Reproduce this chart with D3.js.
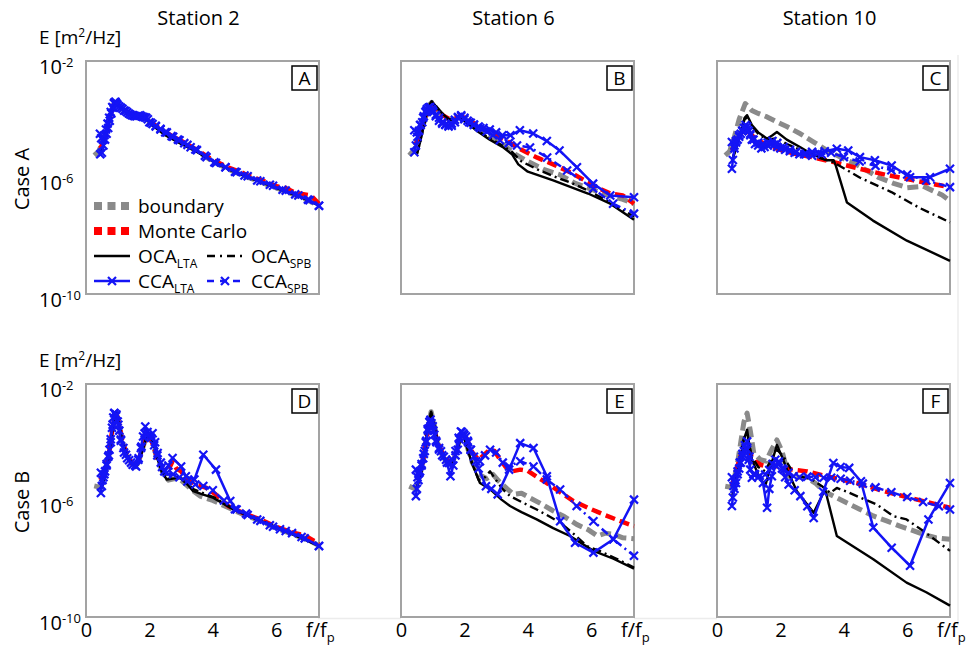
<!DOCTYPE html>
<html>
<head>
<meta charset="utf-8">
<script src="https://cdn.jsdelivr.net/npm/d3@7"></script>
<style>
body { margin: 0; background: #fff; }
text { font-family: "Open Sans", sans-serif; fill: #000; }
</style>
</head>
<body>
<svg width="978" height="649"></svg>
<script>
// labels
var stations = ["Station 2", "Station 6", "Station 10"];
var cases = ["Case A", "Case B"];
var panelLetters = ["A", "B", "C", "D", "E", "F"];
var yTicks = [1e-2, 1e-6, 1e-10];
var xTicks = [0, 2, 4, 6];

// each series: [f/fp, log10 E]
// --- Case A, station 2
var boundaryA = [[0.26,-5.24],[0.4,-5.1],[0.5,-4.85],[0.6,-4.55],[0.7,-4.15],[0.8,-3.75],[0.9,-3.42],[1.0,-3.5],[1.15,-3.65],[1.3,-3.78],[1.5,-3.88],[1.7,-3.92],[1.9,-3.97],[2.1,-4.18],[2.5,-4.48],[3.0,-4.78],[3.5,-5.08],[4.0,-5.45],[4.5,-5.72],[5.0,-5.95],[5.5,-6.15],[6.0,-6.36],[6.5,-6.56],[7.0,-6.78],[7.35,-6.97]];
var monteCarloA = [[0.45,-5.0],[0.55,-4.8],[0.65,-4.4],[0.75,-3.95],[0.85,-3.55],[0.92,-3.42],[1.0,-3.5],[1.15,-3.63],[1.3,-3.76],[1.5,-3.86],[1.7,-3.9],[1.9,-3.95],[2.1,-4.15],[2.5,-4.45],[3.0,-4.74],[3.5,-5.05],[4.0,-5.4],[4.5,-5.66],[4.9,-5.82],[5.1,-5.93],[5.6,-6.12],[6.0,-6.3],[6.3,-6.36],[6.6,-6.52],[6.9,-6.58],[7.1,-6.62],[7.35,-6.9]];
var ocaLtaA = [[0.45,-5.25],[0.55,-4.95],[0.65,-4.5],[0.75,-4.0],[0.85,-3.6],[0.92,-3.4],[1.0,-3.5],[1.15,-3.66],[1.3,-3.8],[1.5,-3.9],[1.7,-3.95],[1.9,-4.0],[2.1,-4.22],[2.5,-4.55],[3.0,-4.85],[3.5,-5.12],[4.0,-5.45],[4.5,-5.72],[5.0,-5.95],[5.5,-6.15],[6.0,-6.36],[6.5,-6.56],[7.0,-6.78],[7.35,-6.97]];
var ocaSpbA = [[0.45,-5.2],[0.55,-4.9],[0.65,-4.45],[0.75,-3.98],[0.85,-3.58],[0.92,-3.42],[1.0,-3.5],[1.15,-3.65],[1.3,-3.79],[1.5,-3.89],[1.7,-3.93],[1.9,-3.98],[2.1,-4.2],[2.5,-4.52],[3.0,-4.82],[3.5,-5.1],[4.0,-5.44],[4.5,-5.71],[5.0,-5.94],[5.5,-6.14],[6.0,-6.35],[6.5,-6.55],[7.0,-6.77],[7.35,-6.96]];
var ccaLtaA = [[0.45,-5.2],[0.5,-5.15],[0.55,-4.9],[0.6,-4.7],[0.65,-4.5],[0.7,-4.3],[0.75,-4.05],[0.8,-3.8],[0.85,-3.6],[0.9,-3.42],[0.95,-3.45],[1.0,-3.52],[1.1,-3.6],[1.2,-3.7],[1.3,-3.76],[1.4,-3.84],[1.5,-3.88],[1.6,-3.9],[1.7,-3.86],[1.8,-3.92],[1.9,-3.95],[2.0,-4.1],[2.1,-4.16],[2.2,-4.25],[2.35,-4.35],[2.5,-4.45],[2.7,-4.58],[2.9,-4.7],[3.1,-4.82],[3.3,-4.96],[3.5,-5.06],[3.8,-5.3],[4.1,-5.5],[4.4,-5.65],[4.7,-5.8],[5.0,-5.93],[5.4,-6.1],[5.8,-6.25],[6.2,-6.42],[6.6,-6.58],[7.0,-6.76],[7.35,-6.97]];
var ccaSpbA = [[0.44,-4.5],[0.48,-4.65],[0.53,-4.7],[0.58,-4.55],[0.63,-4.35],[0.68,-4.15],[0.73,-3.95],[0.78,-3.75],[0.83,-3.58],[0.88,-3.45],[0.93,-3.4],[0.98,-3.48],[1.05,-3.56],[1.15,-3.64],[1.25,-3.72],[1.35,-3.8],[1.45,-3.86],[1.55,-3.9],[1.65,-3.88],[1.75,-3.9],[1.85,-3.93],[1.95,-4.0],[2.05,-4.12],[2.2,-4.22],[2.35,-4.33],[2.55,-4.45],[2.75,-4.6],[2.95,-4.72],[3.2,-4.88],[3.45,-5.04],[3.75,-5.25],[4.05,-5.48],[4.4,-5.65],[4.75,-5.82],[5.1,-5.96],[5.5,-6.13],[5.9,-6.28],[6.3,-6.45],[6.7,-6.62],[7.05,-6.78],[7.35,-6.97]];

// --- Case A, station 6
var boundaryB = [[0.26,-5.24],[0.45,-5.0],[0.6,-4.6],[0.75,-4.0],[0.9,-3.5],[0.97,-3.42],[1.1,-3.6],[1.3,-3.85],[1.5,-4.0],[1.7,-4.0],[1.9,-3.95],[2.1,-4.1],[2.4,-4.35],[2.8,-4.6],[3.2,-4.85],[3.6,-5.2],[4.0,-5.45],[4.5,-5.72],[5.0,-5.9],[5.5,-6.2],[6.0,-6.4],[6.5,-6.6],[7.0,-6.75],[7.35,-6.9]];
var monteCarloB = [[0.45,-4.9],[0.6,-4.5],[0.75,-3.95],[0.9,-3.5],[0.97,-3.45],[1.1,-3.62],[1.3,-3.85],[1.5,-3.98],[1.7,-3.95],[1.9,-3.88],[2.1,-4.0],[2.4,-4.2],[2.8,-4.45],[3.3,-4.72],[3.8,-5.05],[4.3,-5.32],[4.8,-5.55],[5.3,-5.8],[5.8,-6.1],[6.2,-6.35],[6.6,-6.55],[7.0,-6.62],[7.35,-6.9]];
var ocaLtaB = [[0.5,-5.2],[0.6,-4.8],[0.7,-4.3],[0.8,-3.85],[0.9,-3.5],[0.97,-3.38],[1.1,-3.55],[1.3,-3.8],[1.5,-4.0],[1.6,-4.03],[1.8,-3.98],[1.9,-3.95],[2.1,-4.15],[2.4,-4.4],[2.8,-4.7],[3.2,-4.95],[3.5,-5.2],[3.7,-5.55],[4.0,-5.8],[4.8,-6.1],[5.9,-6.55],[6.6,-6.9],[7.35,-7.45]];
var ocaSpbB = [[0.5,-5.2],[0.6,-4.8],[0.7,-4.3],[0.8,-3.85],[0.9,-3.5],[0.97,-3.4],[1.1,-3.57],[1.3,-3.82],[1.5,-4.0],[1.7,-4.0],[1.9,-3.96],[2.1,-4.12],[2.4,-4.38],[2.8,-4.65],[3.2,-4.9],[3.5,-5.12],[3.8,-5.45],[4.3,-5.72],[4.8,-5.95],[5.4,-6.2],[5.9,-6.45],[6.6,-6.85],[7.35,-7.35]];
var ccaLtaB = [[0.42,-5.13],[0.47,-4.9],[0.52,-4.6],[0.57,-4.4],[0.62,-4.2],[0.67,-4.1],[0.72,-3.9],[0.77,-3.75],[0.82,-3.65],[0.87,-3.6],[0.92,-3.58],[0.97,-3.65],[1.02,-3.75],[1.1,-3.85],[1.2,-3.95],[1.3,-4.1],[1.4,-4.18],[1.5,-4.25],[1.6,-4.22],[1.7,-4.1],[1.8,-3.95],[1.9,-3.86],[2.0,-3.95],[2.1,-4.05],[2.2,-4.12],[2.3,-4.18],[2.45,-4.25],[2.6,-4.3],[2.8,-4.35],[3.0,-4.45],[3.2,-4.55],[3.45,-4.55],[3.75,-4.38],[4.17,-4.49],[4.6,-4.75],[5.0,-5.07],[5.55,-5.65],[6.06,-6.21],[6.6,-6.62],[7.35,-6.68]];
var ccaSpbB = [[0.42,-4.38],[0.5,-4.45],[0.6,-4.2],[0.7,-3.95],[0.8,-3.7],[0.9,-3.6],[1.0,-3.7],[1.1,-3.9],[1.2,-4.05],[1.3,-4.15],[1.4,-4.2],[1.5,-4.22],[1.6,-4.15],[1.7,-4.02],[1.8,-3.92],[1.9,-3.9],[2.0,-4.0],[2.15,-4.1],[2.3,-4.2],[2.5,-4.3],[2.7,-4.42],[2.9,-4.55],[3.12,-4.72],[3.4,-4.82],[3.66,-4.9],[4.07,-4.97],[4.61,-5.31],[5.24,-5.76],[6.06,-6.38],[6.69,-6.9],[7.35,-7.24]];

// --- Case A, station 10
var boundaryC = [[0.26,-5.24],[0.4,-5.1],[0.55,-4.6],[0.7,-4.0],[0.89,-3.46],[1.1,-3.7],[1.3,-3.8],[1.58,-3.92],[1.9,-4.1],[2.2,-4.25],[2.63,-4.5],[3.0,-4.75],[3.47,-5.07],[3.89,-5.3],[4.3,-5.5],[4.73,-5.76],[5.1,-6.0],[5.57,-6.2],[6.0,-6.35],[6.5,-6.3],[6.8,-6.45],[7.1,-6.6],[7.35,-6.8]];
var monteCarloC = [[0.47,-5.07],[0.6,-4.8],[0.75,-4.5],[0.89,-4.32],[1.0,-4.45],[1.2,-4.65],[1.58,-4.9],[2.0,-5.05],[2.5,-5.2],[3.0,-5.3],[3.68,-5.47],[4.5,-5.7],[5.3,-5.9],[6.2,-6.1],[7.35,-6.33]];
var ocaLtaC = [[0.47,-5.42],[0.6,-5.0],[0.75,-4.4],[0.87,-3.95],[0.95,-3.86],[1.1,-4.2],[1.3,-4.45],[1.58,-4.67],[1.75,-4.55],[1.89,-4.44],[2.2,-4.7],[2.63,-4.96],[3.0,-5.2],[3.47,-5.41],[3.68,-5.41],[3.75,-5.6],[4.1,-6.86],[4.92,-7.48],[5.99,-8.17],[7.35,-8.86]];
var ocaSpbC = [[0.47,-5.42],[0.6,-5.0],[0.75,-4.45],[0.87,-4.0],[0.95,-3.95],[1.1,-4.25],[1.3,-4.5],[1.58,-4.7],[1.9,-4.65],[2.2,-4.85],[2.63,-5.05],[3.0,-5.25],[3.66,-5.47],[4.5,-6.0],[5.5,-6.5],[6.4,-7.05],[7.35,-7.54]];
var ccaLtaC = [[0.47,-5.7],[0.5,-5.4],[0.55,-5.0],[0.6,-4.8],[0.65,-4.7],[0.7,-4.6],[0.75,-4.5],[0.8,-4.4],[0.85,-4.3],[0.9,-4.2],[0.95,-4.25],[1.0,-4.4],[1.05,-4.55],[1.1,-4.7],[1.2,-4.85],[1.3,-4.9],[1.4,-5.0],[1.5,-4.95],[1.6,-4.9],[1.7,-4.85],[1.8,-4.88],[1.9,-4.95],[2.0,-5.0],[2.15,-5.05],[2.3,-5.1],[2.45,-5.15],[2.6,-5.2],[2.8,-5.18],[3.0,-5.12],[3.2,-5.15],[3.4,-5.1],[3.78,-5.01],[4.14,-5.07],[4.51,-5.3],[4.98,-5.41],[5.51,-5.59],[6.09,-5.99],[6.72,-5.99],[7.35,-5.7]];
var ccaSpbC = [[0.47,-4.78],[0.55,-4.9],[0.6,-4.75],[0.7,-4.55],[0.8,-4.4],[0.88,-4.3],[0.95,-4.35],[1.05,-4.5],[1.15,-4.7],[1.3,-4.8],[1.45,-4.85],[1.6,-4.8],[1.75,-4.75],[1.9,-4.82],[2.1,-4.95],[2.3,-5.05],[2.5,-5.12],[2.75,-5.2],[3.0,-5.25],[3.3,-5.2],[3.6,-5.15],[4.0,-5.3],[4.5,-5.45],[5.0,-5.6],[5.5,-5.75],[6.0,-5.9],[6.6,-6.1],[7.35,-6.33]];

// --- Case B, station 2
var boundaryD = [[0.26,-5.5],[0.45,-5.55],[0.55,-5.3],[0.65,-4.9],[0.75,-4.3],[0.85,-3.5],[0.95,-3.0],[1.05,-3.4],[1.15,-4.0],[1.3,-4.45],[1.45,-4.75],[1.6,-4.85],[1.75,-4.35],[1.9,-3.8],[2.0,-3.75],[2.1,-4.0],[2.25,-4.6],[2.45,-5.1],[2.6,-5.3],[2.8,-5.25],[3.0,-5.3],[3.3,-5.6],[3.6,-5.85],[4.0,-6.0],[4.5,-6.25],[5.0,-6.5],[5.5,-6.7],[6.0,-6.95],[6.5,-7.15],[7.0,-7.35],[7.35,-7.55]];
var monteCarloD = [[0.45,-5.3],[0.55,-5.1],[0.65,-4.8],[0.75,-4.2],[0.85,-3.4],[0.95,-2.95],[1.05,-3.4],[1.15,-4.0],[1.3,-4.45],[1.45,-4.72],[1.6,-4.8],[1.75,-4.3],[1.9,-3.75],[2.0,-3.8],[2.1,-4.05],[2.25,-4.55],[2.45,-5.0],[2.6,-4.95],[2.73,-4.65],[2.85,-4.9],[3.0,-5.0],[3.2,-5.3],[3.5,-5.45],[3.8,-5.57],[4.1,-5.8],[4.5,-6.2],[5.0,-6.45],[5.5,-6.65],[6.0,-6.9],[6.5,-7.1],[6.9,-7.2],[7.2,-7.39],[7.35,-7.5]];
var ocaLtaD = [[0.47,-5.62],[0.55,-5.4],[0.65,-5.0],[0.75,-4.3],[0.85,-3.4],[0.95,-2.95],[1.05,-3.4],[1.15,-4.0],[1.3,-4.45],[1.45,-4.75],[1.6,-4.85],[1.75,-4.4],[1.9,-3.85],[2.0,-3.69],[2.1,-3.95],[2.25,-4.55],[2.4,-5.05],[2.55,-5.28],[2.75,-5.25],[2.97,-5.23],[3.2,-5.45],[3.38,-5.68],[3.7,-5.8],[4.02,-5.91],[4.65,-6.31],[5.38,-6.65],[6.12,-6.99],[6.7,-7.25],[7.35,-7.56]];
var ocaSpbD = [[0.47,-5.58],[0.55,-5.35],[0.65,-4.95],[0.75,-4.28],[0.85,-3.42],[0.95,-2.98],[1.05,-3.42],[1.15,-4.02],[1.3,-4.45],[1.45,-4.74],[1.6,-4.83],[1.75,-4.38],[1.9,-3.83],[2.0,-3.72],[2.1,-3.98],[2.25,-4.55],[2.4,-5.0],[2.55,-5.22],[2.75,-5.2],[2.97,-5.2],[3.2,-5.4],[3.4,-5.62],[3.7,-5.75],[4.02,-5.88],[4.65,-6.28],[5.38,-6.63],[6.12,-6.97],[6.7,-7.23],[7.35,-7.55]];
var ccaLtaD = [[0.47,-5.74],[0.5,-5.5],[0.55,-5.2],[0.6,-5.0],[0.65,-4.75],[0.7,-4.5],[0.74,-4.26],[0.78,-3.9],[0.82,-3.5],[0.86,-3.15],[0.89,-3.0],[0.95,-3.1],[1.0,-3.29],[1.05,-3.6],[1.1,-3.91],[1.18,-4.2],[1.26,-4.43],[1.36,-4.62],[1.47,-4.77],[1.58,-4.83],[1.66,-4.55],[1.73,-4.2],[1.8,-3.8],[1.87,-3.46],[1.94,-3.65],[2.0,-3.8],[2.1,-3.69],[2.18,-4.0],[2.26,-4.37],[2.36,-4.7],[2.47,-5.0],[2.6,-4.8],[2.73,-4.54],[3.0,-4.83],[3.15,-5.17],[3.42,-5.28],[3.7,-4.43],[4.1,-4.94],[4.55,-6.02],[4.75,-6.31],[5.05,-6.45],[5.4,-6.65],[5.8,-6.85],[6.12,-6.99],[6.5,-7.12],[6.9,-7.3],[7.35,-7.56]];
var ccaSpbD = [[0.47,-5.05],[0.52,-5.3],[0.58,-5.1],[0.65,-4.8],[0.72,-4.45],[0.78,-4.0],[0.84,-3.4],[0.9,-3.0],[0.96,-3.05],[1.02,-3.4],[1.1,-3.95],[1.2,-4.35],[1.3,-4.55],[1.42,-4.7],[1.55,-4.8],[1.65,-4.6],[1.75,-4.15],[1.85,-3.7],[1.95,-3.75],[2.05,-3.85],[2.15,-4.1],[2.25,-4.45],[2.4,-4.85],[2.55,-5.05],[2.75,-5.1],[2.95,-5.2],[3.2,-5.35],[3.45,-5.45],[3.7,-5.5],[4.0,-5.65],[4.35,-6.0],[4.7,-6.3],[5.1,-6.5],[5.5,-6.7],[5.9,-6.9],[6.3,-7.05],[6.8,-7.25],[7.35,-7.56]];

// --- Case B, station 6
var boundaryE = [[0.26,-5.51],[0.45,-5.6],[0.55,-5.3],[0.65,-4.9],[0.75,-4.3],[0.85,-3.5],[0.95,-2.95],[1.05,-3.4],[1.15,-4.0],[1.3,-4.45],[1.45,-4.7],[1.6,-4.8],[1.75,-4.3],[1.9,-3.7],[2.0,-3.75],[2.1,-4.2],[2.25,-4.7],[2.45,-5.1],[2.7,-5.25],[2.9,-5.1],[3.1,-5.35],[3.35,-5.6],[3.55,-5.79],[3.8,-5.75],[4.07,-5.91],[4.4,-6.1],[4.81,-6.36],[5.15,-6.55],[5.54,-6.82],[5.9,-7.0],[6.2,-7.22],[6.45,-7.12],[6.7,-7.16],[7.0,-7.28],[7.35,-7.31]];
var monteCarloE = [[0.5,-5.3],[0.6,-5.0],[0.7,-4.6],[0.8,-3.9],[0.9,-3.3],[0.95,-3.2],[1.05,-3.55],[1.15,-4.0],[1.3,-4.35],[1.45,-4.6],[1.6,-4.7],[1.75,-4.3],[1.9,-3.7],[2.0,-3.7],[2.1,-3.95],[2.25,-4.35],[2.45,-4.6],[2.6,-4.45],[2.79,-4.26],[2.95,-4.3],[3.1,-4.55],[3.3,-4.85],[3.5,-5.0],[3.76,-4.94],[4.0,-4.98],[4.3,-5.2],[4.6,-5.4],[5.0,-5.7],[5.44,-6.02],[5.9,-6.25],[6.39,-6.48],[6.9,-6.7],[7.35,-6.88]];
var ocaLtaE = [[0.47,-5.62],[0.55,-5.4],[0.65,-5.0],[0.75,-4.3],[0.85,-3.4],[0.95,-2.95],[1.05,-3.4],[1.15,-4.0],[1.3,-4.45],[1.45,-4.7],[1.6,-4.8],[1.75,-4.35],[1.9,-3.8],[2.0,-3.85],[2.1,-4.25],[2.25,-4.75],[2.49,-5.4],[2.8,-5.6],[3.17,-5.97],[3.44,-6.19],[3.8,-6.4],[4.28,-6.65],[4.8,-6.95],[5.33,-7.22],[6.07,-7.73],[6.7,-8.0],[7.35,-8.34]];
var ocaSpbE = [[0.47,-5.6],[0.55,-5.38],[0.65,-4.98],[0.75,-4.3],[0.85,-3.42],[0.95,-2.97],[1.05,-3.42],[1.15,-4.0],[1.3,-4.45],[1.45,-4.7],[1.6,-4.8],[1.75,-4.35],[1.9,-3.8],[2.0,-3.85],[2.1,-4.25],[2.25,-4.75],[2.45,-5.3],[2.65,-5.2],[2.81,-5.0],[3.0,-5.3],[3.2,-5.6],[3.44,-5.85],[3.8,-6.05],[4.28,-6.31],[4.6,-6.5],[5.02,-6.76],[5.45,-7.15],[5.86,-7.56],[6.3,-7.75],[6.8,-8.0],[7.35,-8.3]];
var ccaLtaE = [[0.47,-5.85],[0.5,-5.6],[0.55,-5.3],[0.6,-5.0],[0.65,-4.8],[0.7,-4.55],[0.75,-4.3],[0.8,-3.95],[0.85,-3.6],[0.9,-3.3],[0.93,-3.23],[1.0,-3.45],[1.05,-3.74],[1.12,-4.0],[1.2,-4.2],[1.26,-4.31],[1.35,-4.5],[1.45,-4.7],[1.56,-5.17],[1.65,-4.8],[1.72,-4.45],[1.79,-4.26],[1.84,-3.9],[1.89,-3.63],[1.97,-3.7],[2.05,-3.8],[2.12,-4.0],[2.2,-4.26],[2.3,-4.5],[2.45,-4.9],[2.68,-5.51],[2.85,-5.6],[3.05,-5.79],[3.41,-4.94],[3.76,-4.03],[4.18,-4.2],[4.6,-5.17],[5.02,-6.71],[5.49,-7.45],[6.07,-7.79],[6.7,-7.33],[7.35,-5.97]];
var ccaSpbE = [[0.47,-4.94],[0.52,-5.2],[0.58,-5.05],[0.65,-4.75],[0.72,-4.4],[0.78,-4.0],[0.84,-3.55],[0.9,-3.3],[0.96,-3.35],[1.02,-3.6],[1.1,-3.95],[1.2,-4.25],[1.3,-4.45],[1.42,-4.6],[1.52,-4.71],[1.62,-4.6],[1.72,-4.3],[1.82,-3.85],[1.92,-3.65],[2.0,-3.75],[2.1,-3.95],[2.2,-4.26],[2.37,-4.65],[2.49,-4.65],[2.65,-4.45],[2.81,-4.26],[3.0,-4.35],[3.21,-4.7],[3.41,-4.83],[3.76,-4.65],[4.18,-4.83],[4.6,-5.28],[5.02,-5.62],[5.54,-6.19],[6.07,-6.71],[6.7,-7.33],[7.35,-7.9]];

// --- Case B, station 10
var boundaryF = [[0.26,-5.51],[0.45,-5.55],[0.55,-5.2],[0.65,-4.7],[0.75,-4.0],[0.85,-3.3],[0.95,-3.0],[1.05,-3.6],[1.16,-4.37],[1.37,-4.6],[1.55,-4.65],[1.7,-4.3],[1.89,-3.92],[2.05,-4.3],[2.26,-5.17],[2.5,-5.2],[2.8,-5.2],[3.1,-5.4],[3.4,-5.7],[3.67,-5.85],[4.09,-6.08],[4.5,-6.3],[4.93,-6.53],[5.35,-6.7],[5.77,-6.88],[6.1,-7.0],[6.51,-7.16],[6.9,-7.28],[7.35,-7.33]];
var monteCarloF = [[0.47,-5.51],[0.55,-5.2],[0.65,-4.8],[0.75,-4.45],[0.85,-4.2],[0.95,-4.14],[1.05,-4.4],[1.21,-4.66],[1.4,-4.78],[1.58,-4.83],[1.8,-4.8],[2.0,-4.85],[2.37,-4.94],[2.84,-5.0],[3.46,-5.17],[4.41,-5.4],[5.46,-5.74],[6.51,-6.02],[7.35,-6.25]];
var ocaLtaF = [[0.47,-5.97],[0.55,-5.6],[0.65,-5.0],[0.75,-4.5],[0.85,-3.9],[0.95,-3.57],[1.02,-4.1],[1.1,-4.6],[1.3,-5.1],[1.52,-5.51],[1.7,-4.8],[1.89,-4.09],[2.05,-4.5],[2.21,-4.94],[2.52,-5.68],[3.05,-6.42],[3.41,-5.62],[3.78,-7.22],[4.93,-8.02],[5.98,-8.82],[6.6,-9.15],[7.35,-9.61]];
var ocaSpbF = [[0.47,-5.9],[0.55,-5.5],[0.65,-4.9],[0.75,-4.4],[0.85,-3.85],[0.95,-3.7],[1.02,-4.1],[1.1,-4.5],[1.3,-4.85],[1.52,-5.0],[1.7,-4.6],[1.89,-4.25],[2.1,-4.5],[2.35,-4.95],[2.62,-5.17],[3.0,-5.28],[3.3,-5.5],[3.57,-5.74],[3.78,-5.57],[4.1,-5.7],[4.41,-5.85],[5.04,-6.14],[5.57,-6.54],[5.98,-6.65],[6.51,-7.05],[7.35,-7.73]];
var ccaLtaF = [[0.47,-6.19],[0.5,-5.9],[0.55,-5.6],[0.6,-5.4],[0.65,-5.1],[0.7,-4.9],[0.75,-4.7],[0.8,-4.5],[0.85,-4.3],[0.9,-4.2],[0.95,-4.25],[1.0,-4.6],[1.05,-4.94],[1.15,-5.1],[1.3,-5.2],[1.45,-5.4],[1.58,-6.25],[1.65,-5.6],[1.73,-5.17],[1.85,-4.8],[1.95,-4.66],[2.05,-4.9],[2.15,-5.2],[2.26,-5.45],[2.45,-5.65],[2.63,-5.85],[2.85,-6.2],[3.05,-6.6],[3.35,-5.7],[3.67,-4.71],[3.9,-4.85],[4.17,-4.88],[4.54,-5.34],[4.93,-6.93],[5.51,-7.62],[6.09,-8.24],[6.67,-6.65],[7.35,-5.4]];
var ccaSpbF = [[0.47,-5.2],[0.52,-5.5],[0.58,-5.3],[0.65,-5.0],[0.72,-4.7],[0.8,-4.4],[0.88,-4.1],[0.95,-3.97],[1.02,-4.5],[1.1,-5.22],[1.2,-5.1],[1.35,-5.15],[1.52,-5.11],[1.65,-4.95],[1.75,-4.75],[1.84,-4.6],[1.95,-4.75],[2.1,-4.94],[2.25,-5.05],[2.42,-5.17],[2.6,-5.2],[2.85,-5.18],[3.1,-5.2],[3.36,-5.22],[3.6,-5.22],[3.9,-5.25],[4.2,-5.32],[4.6,-5.42],[5.0,-5.55],[5.5,-5.72],[6.0,-5.88],[6.5,-6.05],[7.0,-6.2],[7.35,-6.31]];

// panel table built from the arrays above
var panelSeries = [
  [boundaryA, monteCarloA, ocaLtaA, ocaSpbA, ccaLtaA, ccaSpbA],
  [boundaryB, monteCarloB, ocaLtaB, ocaSpbB, ccaLtaB, ccaSpbB],
  [boundaryC, monteCarloC, ocaLtaC, ocaSpbC, ccaLtaC, ccaSpbC],
  [boundaryD, monteCarloD, ocaLtaD, ocaSpbD, ccaLtaD, ccaSpbD],
  [boundaryE, monteCarloE, ocaLtaE, ocaSpbE, ccaLtaE, ccaSpbE],
  [boundaryF, monteCarloF, ocaLtaF, ocaSpbF, ccaLtaF, ccaSpbF]
];

// line styles, same order as the series
var styles = [
  {color: "#8a8a8a", width: 5, dash: "11,5", marker: false},
  {color: "#ff0000", width: 4.5, dash: "10,5", marker: false},
  {color: "#000", width: 2.4, dash: null, marker: false},
  {color: "#000", width: 2.4, dash: "9,4,2,4", marker: false},
  {color: "#1414f5", width: 2.5, dash: null, marker: true},
  {color: "#1414f5", width: 2.5, dash: "8,4,2,4", marker: true}
];
var xMark = "M-4,-4L4,4M-4,4L4,-4";

var colX = [86, 401, 717], rowY = [61, 384];
var pw = 233, ph = 233;

var svg = d3.select("svg");

var x = d3.scaleLinear().domain([0, 7.35]).range([0, pw]);
var y = d3.scaleLog().domain([1e-10, 1e-2]).range([ph, 0]);
var line = d3.line()
    .x(function(d) { return x(d[0]); })
    .y(function(d) { return y(Math.pow(10, d[1])); });

// faint frame lines from the original figure
svg.append("line").attr("x1", 958).attr("x2", 958).attr("y1", 55).attr("y2", 625)
  .attr("stroke", "#ececec").attr("stroke-width", 1.5);
[[318, 401], [634, 717]].forEach(function(s) {
  svg.append("line").attr("x1", s[0]).attr("x2", s[1]).attr("y1", 618.5).attr("y2", 618.5)
    .attr("stroke", "#ececec").attr("stroke-width", 1.5);
});

// station titles
stations.forEach(function(s, i) {
  svg.append("text")
    .attr("x", colX[i] + pw / 2 - 4).attr("y", 25)
    .attr("text-anchor", "middle").attr("font-size", 20)
    .text(s);
});

// case labels and y titles
cases.forEach(function(c, r) {
  svg.append("text")
    .attr("transform", "translate(29," + (rowY[r] + 118) + ") rotate(-90)")
    .attr("text-anchor", "middle").attr("font-size", 20)
    .text(c);
  var t = svg.append("text").attr("x", 39).attr("y", rowY[r] - 17).attr("font-size", 19);
  t.append("tspan").text("E [m");
  t.append("tspan").attr("dy", -7).attr("font-size", 12).text("2");
  t.append("tspan").attr("dy", 7).text("/Hz]");
});

panelSeries.forEach(function(series, p) {
  var col = p % 3, row = Math.floor(p / 3);
  var g = svg.append("g").attr("transform", "translate(" + colX[col] + "," + rowY[row] + ")");

  g.append("rect").attr("width", pw).attr("height", ph)
    .attr("fill", "none").attr("stroke", "#a3a3a3").attr("stroke-width", 2);

  series.forEach(function(data, s) {
    var st = styles[s];
    g.append("path").datum(data)
      .attr("d", line)
      .attr("fill", "none")
      .attr("stroke", st.color)
      .attr("stroke-width", st.width)
      .attr("stroke-linejoin", "round")
      .attr("stroke-dasharray", st.dash);
    if (st.marker) {
      g.append("g").selectAll("path").data(data).enter().append("path")
        .attr("transform", function(d) { return "translate(" + x(d[0]) + "," + y(Math.pow(10, d[1])) + ")"; })
        .attr("d", xMark)
        .attr("stroke", st.color).attr("stroke-width", 2.2);
    }
  });

  // panel letter
  g.append("rect").attr("x", pw - 27).attr("y", 5).attr("width", 25).attr("height", 24)
    .attr("fill", "#fff").attr("stroke", "#000").attr("stroke-width", 1.5);
  g.append("text").attr("x", pw - 14.5).attr("y", 24).attr("text-anchor", "middle")
    .attr("font-size", 19).text(panelLetters[p]);

  if (col === 0) {
    var ay = g.append("g").call(d3.axisLeft(y).tickValues(yTicks).tickSize(0));
    ay.select(".domain").remove();
    ay.attr("font-family", null).attr("font-size", null);
    ay.selectAll(".tick text").each(function(d) {
      var t = d3.select(this).text(null)
        .attr("x", 39 - colX[0]).attr("dy", null).attr("y", 12)
        .attr("text-anchor", "start").attr("font-size", 20);
      t.append("tspan").text("10");
      t.append("tspan").attr("dy", -7).attr("font-size", 13).text(Math.round(Math.log10(d)));
    });
  }
  if (row === 1) {
    var ax = g.append("g").attr("transform", "translate(0," + ph + ")")
      .call(d3.axisBottom(x).tickValues(xTicks).tickSize(0));
    ax.select(".domain").remove();
    ax.attr("font-family", null).attr("font-size", null);
    ax.selectAll(".tick text").attr("y", 20).attr("dy", null).attr("font-size", 20);
    var ft = g.append("text").attr("x", pw - 13).attr("y", ph + 20).attr("font-size", 20);
    ft.append("tspan").text("f/f");
    ft.append("tspan").attr("dy", 5).attr("font-size", 13).text("p");
  }
});

// legend in panel A
var legendRows = [
  {s: 0, x: 94, y: 206, label: "boundary"},
  {s: 1, x: 94, y: 231, label: "Monte Carlo"},
  {s: 2, x: 94, y: 256, label: "OCA", sub: "LTA"},
  {s: 3, x: 207, y: 256, label: "OCA", sub: "SPB"},
  {s: 4, x: 94, y: 281, label: "CCA", sub: "LTA"},
  {s: 5, x: 207, y: 281, label: "CCA", sub: "SPB"}
];
var legendSample = [
  {width: 8, dash: "8,5.5"},
  {width: 8, dash: "8,5.5"},
  {width: 2.4, dash: null},
  {width: 2.4, dash: "8,5,2,5"},
  {width: 2.5, dash: null},
  {width: 2.5, dash: "7,6"}
];
var lg = svg.append("g");
legendRows.forEach(function(r) {
  var st = styles[r.s], ls = legendSample[r.s];
  lg.append("line").attr("x1", r.x).attr("x2", r.x + 36).attr("y1", r.y).attr("y2", r.y)
    .attr("stroke", st.color).attr("stroke-width", ls.width).attr("stroke-dasharray", ls.dash);
  if (st.marker) {
    lg.append("path").attr("transform", "translate(" + (r.x + 18) + "," + r.y + ")")
      .attr("d", xMark)
      .attr("stroke", st.color).attr("stroke-width", 2.2);
  }
  var t = lg.append("text").attr("x", r.x + 44).attr("y", r.y + 7).attr("font-size", 19);
  t.append("tspan").text(r.label);
  if (r.sub) t.append("tspan").attr("dy", 5).attr("font-size", 12).text(r.sub);
});
</script>
</body>
</html>
